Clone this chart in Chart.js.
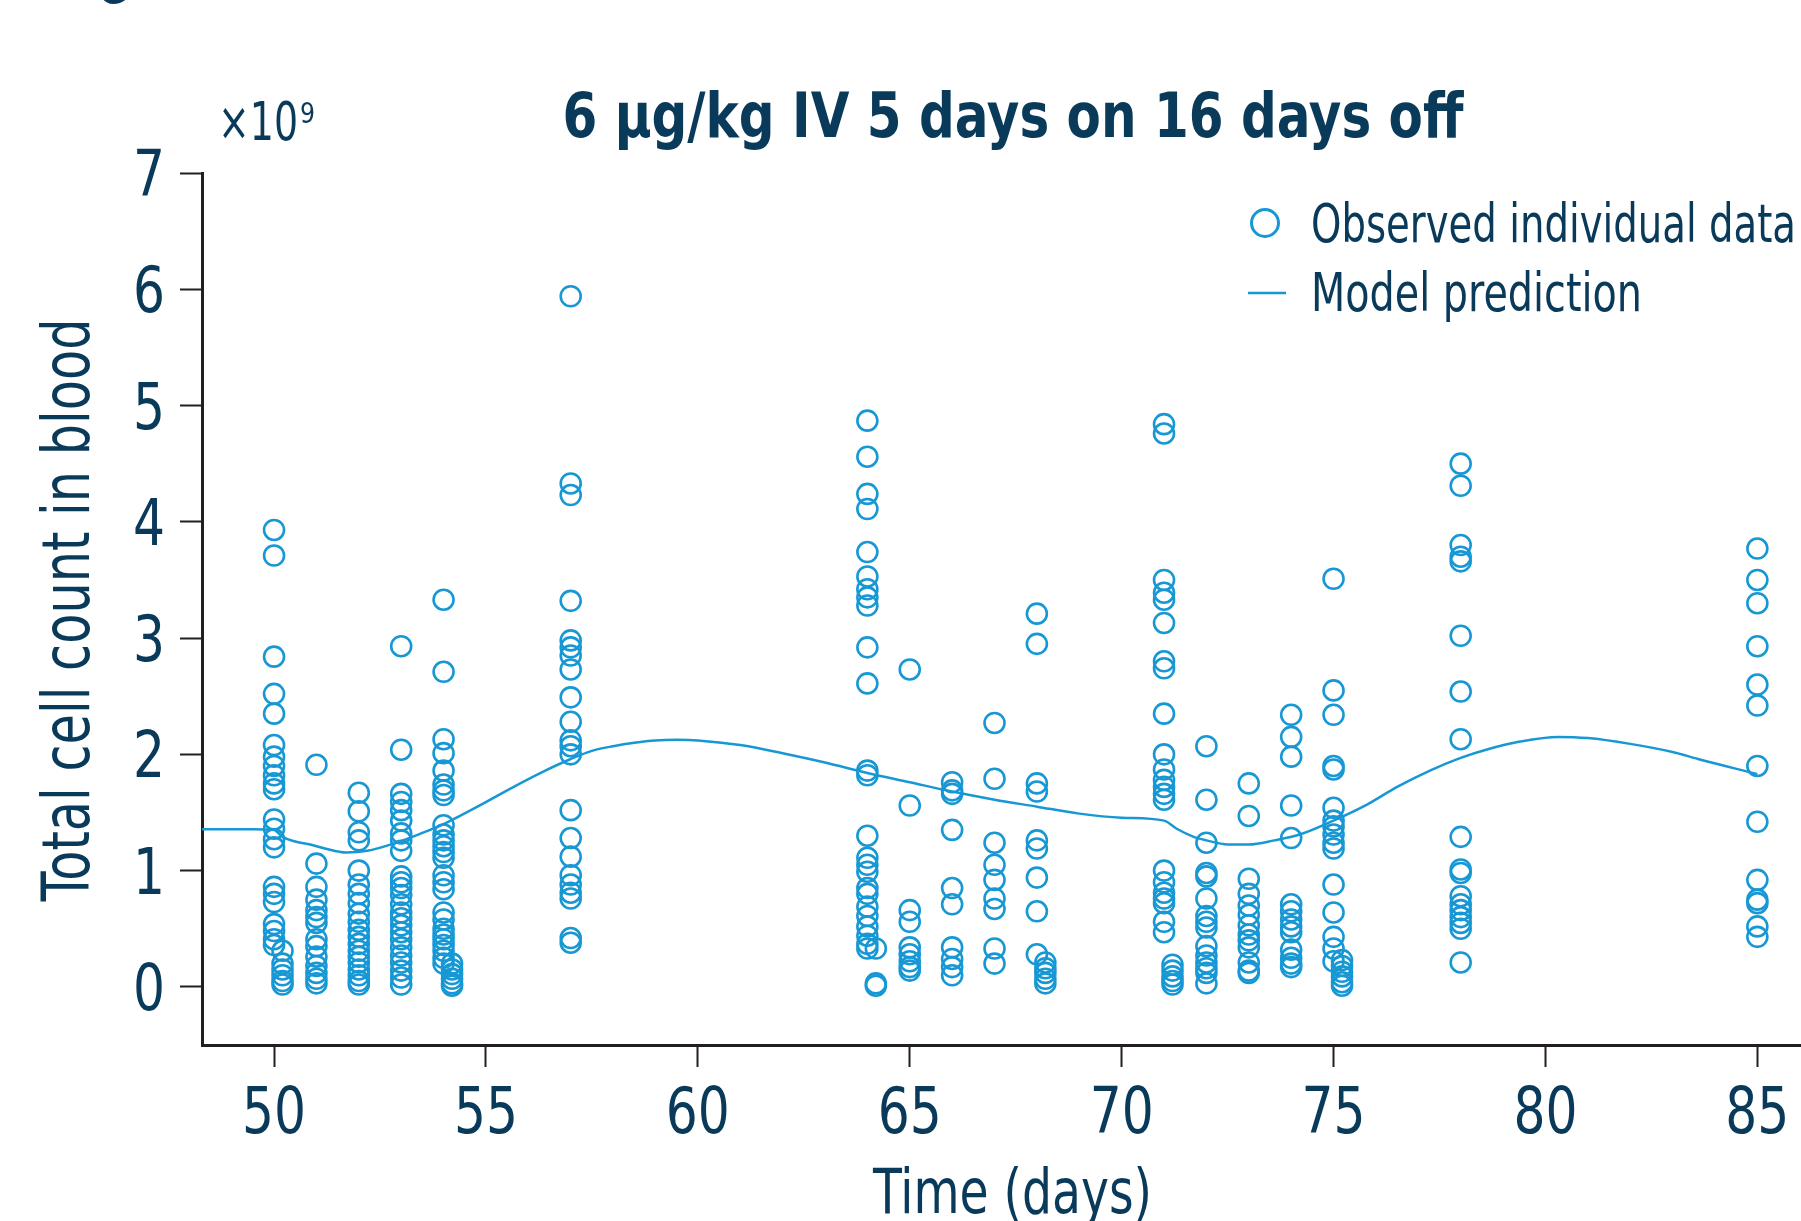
<!DOCTYPE html>
<html>
<head>
<meta charset="utf-8">
<script src="https://cdn.jsdelivr.net/npm/chart.js@4.4.0/dist/chart.umd.min.js"></script>
<style>
  html, body { margin: 0; padding: 0; background: #ffffff; }
  canvas { display: block; }
</style>
</head>
<body>
<canvas id="cellChart" width="1801" height="1221"></canvas>
<script>
// observed sampling times (days) and the counts at each time (x10^9 cells)
const obsTimes = [50, 50.2, 51, 52, 53, 54, 54.2, 57, 64, 64.2, 65, 66, 67, 68, 68.2, 71, 71.2, 72, 73, 74, 75, 75.2, 78, 85];
const obsCounts = [
  [3.93, 3.71, 2.84, 2.52, 2.35, 2.08, 1.98, 1.9, 1.82, 1.75, 1.7, 1.44, 1.36, 1.27, 1.2, 0.86, 0.8, 0.73, 0.54, 0.48, 0.41, 0.36],
  [0.31, 0.2, 0.15, 0.1, 0.05, 0.02],
  [1.91, 1.06, 0.86, 0.75, 0.66, 0.6, 0.55, 0.41, 0.35, 0.26, 0.18, 0.12, 0.07, 0.03],
  [1.67, 1.51, 1.33, 1.26, 1.0, 0.88, 0.8, 0.72, 0.63, 0.56, 0.49, 0.43, 0.37, 0.31, 0.26, 0.21, 0.15, 0.1, 0.05, 0.02],
  [2.93, 2.04, 1.66, 1.59, 1.52, 1.43, 1.32, 1.26, 1.17, 0.95, 0.9, 0.85, 0.79, 0.71, 0.64, 0.59, 0.53, 0.47, 0.41, 0.34, 0.27, 0.21, 0.14, 0.08, 0.02],
  [3.33, 2.71, 2.13, 2.01, 1.86, 1.74, 1.69, 1.65, 1.39, 1.31, 1.26, 1.21, 1.16, 1.11, 0.96, 0.9, 0.84, 0.64, 0.58, 0.5, 0.45, 0.41, 0.36, 0.31, 0.25, 0.2],
  [0.2, 0.15, 0.11, 0.07, 0.03, 0.01],
  [5.94, 4.33, 4.23, 3.32, 2.98, 2.92, 2.85, 2.73, 2.49, 2.28, 2.12, 2.07, 2.0, 1.52, 1.28, 1.12, 0.96, 0.88, 0.81, 0.76, 0.42, 0.38],
  [4.87, 4.56, 4.24, 4.11, 3.74, 3.53, 3.42, 3.35, 3.28, 2.92, 2.61, 1.86, 1.82, 1.3, 1.11, 1.05, 0.99, 0.85, 0.8, 0.69, 0.61, 0.52, 0.44, 0.37, 0.33],
  [0.33, 0.03, 0.01],
  [2.73, 1.56, 0.66, 0.56, 0.34, 0.28, 0.22, 0.17, 0.14],
  [1.76, 1.69, 1.66, 1.35, 0.85, 0.71, 0.34, 0.24, 0.17, 0.1],
  [2.27, 1.79, 1.24, 1.05, 0.92, 0.76, 0.67, 0.33, 0.2],
  [3.21, 2.95, 1.75, 1.68, 1.26, 1.19, 0.94, 0.65, 0.28],
  [0.21, 0.16, 0.12, 0.07, 0.03],
  [4.84, 4.76, 3.5, 3.39, 3.33, 3.13, 2.8, 2.74, 2.35, 2.0, 1.87, 1.78, 1.72, 1.66, 1.61, 1.0, 0.9, 0.81, 0.76, 0.72, 0.56, 0.47],
  [0.19, 0.14, 0.09, 0.05, 0.02],
  [2.07, 1.61, 1.24, 0.98, 0.95, 0.76, 0.61, 0.56, 0.51, 0.35, 0.27, 0.21, 0.16, 0.12, 0.03],
  [1.75, 1.47, 0.93, 0.8, 0.7, 0.62, 0.53, 0.45, 0.4, 0.34, 0.21, 0.14, 0.12],
  [2.34, 2.15, 1.98, 1.56, 1.28, 0.71, 0.65, 0.58, 0.52, 0.47, 0.32, 0.25, 0.2, 0.17],
  [3.51, 2.55, 2.34, 1.9, 1.87, 1.54, 1.43, 1.38, 1.31, 1.24, 1.19, 0.88, 0.64, 0.43, 0.33, 0.22],
  [0.23, 0.18, 0.13, 0.09, 0.04, 0.01],
  [4.5, 4.31, 3.8, 3.7, 3.66, 3.02, 2.54, 2.13, 1.29, 1.01, 0.98, 0.78, 0.71, 0.66, 0.6, 0.55, 0.5, 0.21],
  [3.77, 3.5, 3.3, 2.93, 2.6, 2.42, 1.9, 1.42, 0.92, 0.75, 0.72, 0.52, 0.43]
];

// model prediction curve
const modelDays = [48.3, 49, 49.5, 50, 50.2, 50.5, 50.9, 51.2, 51.7, 52.2, 52.8, 53.4, 54, 54.8, 55.6, 56.4, 57, 57.5, 58, 58.5, 59, 59.5, 60, 61, 62, 63, 64, 65, 66, 67, 68, 69, 70, 71, 71.3, 71.7, 72, 72.5, 73, 73.6, 74.2, 75, 75.8, 76.5, 77.3, 78, 78.6, 79.4, 80.3, 81, 82, 83, 83.6, 85];
const modelCounts = [1.355, 1.355, 1.355, 1.35, 1.29, 1.25, 1.22, 1.19, 1.155, 1.17, 1.23, 1.31, 1.4, 1.55, 1.71, 1.86, 1.96, 2.03, 2.07, 2.1, 2.12, 2.125, 2.12, 2.08, 2.01, 1.93, 1.84, 1.76, 1.68, 1.61, 1.55, 1.49, 1.455, 1.43, 1.36, 1.29, 1.26, 1.225, 1.225, 1.26, 1.31, 1.43, 1.57, 1.72, 1.865, 1.97, 2.04, 2.11, 2.15, 2.14, 2.09, 2.02, 1.96, 1.83];

const xTicks = [50, 55, 60, 65, 70, 75, 80, 85];
const yTicks = [0, 1, 2, 3, 4, 5, 6, 7];

const titleText = '6 \u03bcg/kg IV 5 days on 16 days off';
const xTitle = 'Time (days)';
const yTitle = 'Total cell count in blood';
const legendLabels = ['Observed individual data', 'Model prediction'];

const FONT = "'DejaVu Sans Condensed', 'DejaVu Sans', sans-serif";
const textColor = '#0a3a5a';
const axisColor = '#231f20';
const blue = '#1798d5';

const obsPoints = [];
obsTimes.forEach((t, i) => {
  obsCounts[i].forEach(v => obsPoints.push({ x: t, y: v }));
});
const modelPoints = modelDays.map((d, i) => ({ x: d, y: modelCounts[i] }));

// the reference uses a narrow face, so squeeze text to the measured width
function fitText(ctx, text, x, y, width, align) {
  const w = ctx.measureText(text).width;
  ctx.save();
  ctx.translate(x, y);
  ctx.scale(width / w, 1);
  ctx.textAlign = align;
  ctx.fillText(text, 0, 0);
  ctx.restore();
}

const textPlugin = {
  id: 'textPlugin',
  afterDraw(chart) {
    const ctx = chart.ctx;
    const xs = chart.scales.x, ys = chart.scales.y;
    ctx.save();
    ctx.fillStyle = textColor;
    ctx.textBaseline = 'alphabetic';

    // tick labels, placed from the axes' own ticks
    ctx.font = '64px ' + FONT;
    const squeeze = 64 / ctx.measureText('50').width;
    xs.ticks.forEach(t => {
      const s = String(t.value);
      fitText(ctx, s, xs.getPixelForValue(t.value), 1133, ctx.measureText(s).width * squeeze, 'center');
    });
    ys.ticks.forEach(t => {
      const s = String(t.value);
      fitText(ctx, s, 165, ys.getPixelForValue(t.value) + 23, ctx.measureText(s).width * squeeze, 'right');
    });

    // cut-off panel letter at the top edge
    ctx.font = 'bold 64px ' + FONT;
    fitText(ctx, 'G', 112, 3, 34, 'center');

    // title
    ctx.font = 'bold 62px ' + FONT;
    fitText(ctx, titleText, 1013, 137, 901, 'center');

    // x10^9
    ctx.font = '53px ' + FONT;
    fitText(ctx, '\u00d710', 218, 140, 80, 'left');
    ctx.font = '28px ' + FONT;
    fitText(ctx, '9', 300, 123, 15, 'left');

    // axis titles
    ctx.font = '62px ' + FONT;
    fitText(ctx, xTitle, 1012.5, 1213, 279, 'center');
    ctx.save();
    ctx.translate(89, 610);
    ctx.rotate(-Math.PI / 2);
    ctx.font = '65px ' + FONT;
    fitText(ctx, yTitle, 0, 0, 583, 'center');
    ctx.restore();

    // legend
    ctx.strokeStyle = blue;
    ctx.lineWidth = 3;
    ctx.beginPath();
    ctx.arc(1265, 223, 13.5, 0, Math.PI * 2);
    ctx.stroke();
    ctx.lineWidth = 2.5;
    ctx.beginPath();
    ctx.moveTo(1248, 293);
    ctx.lineTo(1286, 293);
    ctx.stroke();
    ctx.font = '54px ' + FONT;
    fitText(ctx, legendLabels[0], 1311, 242, 485, 'left');
    fitText(ctx, legendLabels[1], 1311, 311, 331, 'left');
    ctx.restore();
  }
};

new Chart(document.getElementById('cellChart'), {
  type: 'scatter',
  data: {
    datasets: [
      {
        label: legendLabels[0],
        data: obsPoints,
        pointStyle: 'circle',
        pointRadius: 10,
        pointBorderWidth: 2.6,
        borderColor: blue,
        backgroundColor: 'rgba(0,0,0,0)',
        pointHoverRadius: 10
      },
      {
        label: legendLabels[1],
        data: modelPoints,
        showLine: true,
        pointRadius: 0,
        borderColor: blue,
        borderWidth: 2.5,
        cubicInterpolationMode: 'monotone',
        fill: false
      }
    ]
  },
  options: {
    responsive: false,
    devicePixelRatio: 1,
    animation: false,
    layout: { autoPadding: false, padding: { top: 173, right: 0, left: 0, bottom: 0 } },
    plugins: {
      legend: { display: false },
      tooltip: { enabled: false },
      title: { display: false }
    },
    scales: {
      x: {
        type: 'linear',
        position: 'bottom',
        min: 48.3,
        max: 86.03,
        afterFit: s => { s.height = 176; },
        afterBuildTicks: s => { s.ticks = xTicks.map(v => ({ value: v })); },
        grid: { drawOnChartArea: false, drawTicks: true, tickLength: 22, tickColor: axisColor, tickWidth: 2 },
        border: { color: axisColor, width: 3 },
        ticks: { display: false }
      },
      y: {
        type: 'linear',
        min: -0.5,
        max: 7,
        afterFit: s => { s.width = 202; },
        afterBuildTicks: s => { s.ticks = yTicks.map(v => ({ value: v })); },
        grid: { drawOnChartArea: false, drawTicks: true, tickLength: 22, tickColor: axisColor, tickWidth: 2 },
        border: { color: axisColor, width: 3 },
        ticks: { display: false }
      }
    }
  },
  plugins: [textPlugin]
});
</script>
</body>
</html>
